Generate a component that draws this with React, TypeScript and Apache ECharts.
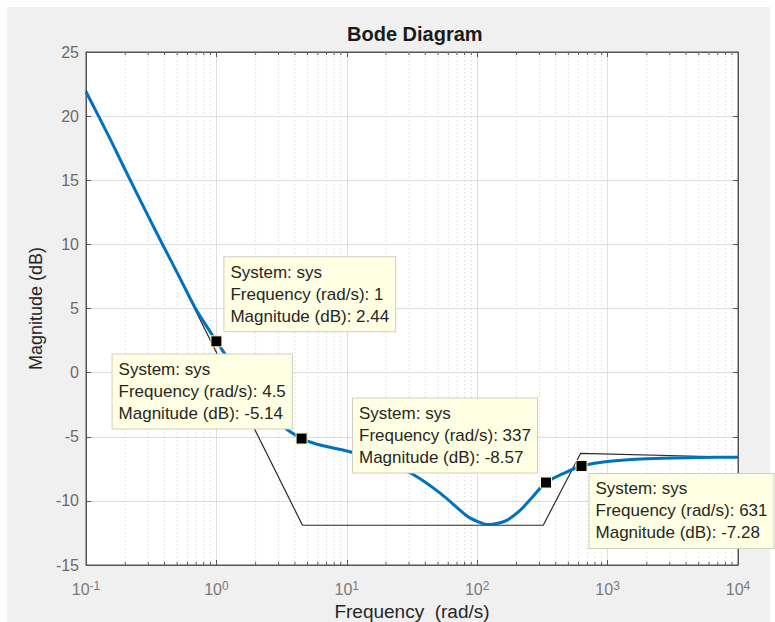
import React, { useEffect, useRef } from "react";
import * as echarts from "echarts";

// ---- Data ----
const curveFreq = [0.1, 0.15, 0.2, 0.3, 0.4, 0.5, 0.7, 0.85, 1, 1.17, 1.5, 2, 2.5, 3, 3.5, 4.5, 6, 9, 15, 22, 33, 52, 84, 100, 120, 150, 170, 210, 255, 337, 450, 631, 1000, 2000, 5000, 10000];
const curveMag = [21.9, 18.4, 15.8, 12.2, 9.7, 7.8, 4.9, 3.55, 2.44, 1.4, -0.3, -2.0, -3.1, -3.9, -4.46, -5.14, -5.6, -6.0, -6.6, -7.2, -8.0, -9.4, -11.2, -11.6, -11.85, -11.7, -11.5, -10.8, -9.9, -8.57, -7.9, -7.28, -6.93, -6.72, -6.62, -6.6];

const asymFreq = [0.1, 4.57, 321, 620, 10000];
const asymMag = [22, -11.9, -11.9, -6.3, -6.6];

const tipFreq = [1, 4.5, 337, 631];
const tipMag = [2.44, -5.14, -8.57, -7.28];
const tipFreqText = ["1", "4.5", "337", "631"];
const tipMagText = ["2.44", "-5.14", "-8.57", "-7.28"];

const decades = [0.1, 1, 10, 100, 1000];
const minorMultipliers = [2, 3, 4, 5, 6, 7, 8, 9];

const yMin = -15;
const yMax = 25;
const yStep = 5;

const title = "Bode Diagram";
const xName = "Frequency  (rad/s)";
const yName = "Magnitude (dB)";

// label box offsets relative to each marker
const tipOffsets: [number, number][] = [
  [14, -78],
  [-183, -78],
  [-187, -78],
  [14, 14],
];

const FONT = "'Liberation Sans', Arial, Helvetica, sans-serif";

export default function App() {
  const ref = useRef<HTMLDivElement>(null);

  useEffect(() => {
    if (!ref.current) return;
    const chart = echarts.init(ref.current, null, { renderer: "svg" });

    const curve = curveFreq.map((f, i) => [f, curveMag[i]]);
    const asym = asymFreq.map((f, i) => [f, asymMag[i]]);
    const minors: number[][] = [];
    decades.forEach((d) => minorMultipliers.forEach((m) => minors.push([d * m, 0])));

    const tips = tipFreq.map((f, i) => ({
      value: [f, tipMag[i]],
      label: {
        show: true,
        position: tipOffsets[i],
        formatter: `System: sys\nFrequency (rad/s): ${tipFreqText[i]}\nMagnitude (dB): ${tipMagText[i]}`,
      },
    }));

    const axisColor = "#555555";

    const option: any = {
      animation: false,
      backgroundColor: "#ffffff",
      textStyle: { fontFamily: FONT },
      title: {
        text: title,
        left: 342,
        top: 19,
        textStyle: { fontSize: 20, fontWeight: "bold", color: "#1a1a1a", fontFamily: FONT },
      },
      graphic: [
        {
          type: "rect",
          z: -100,
          shape: { x: 7, y: 7, width: 763, height: 615 },
          style: { fill: "#f0f0f0" },
          silent: true,
        },
      ],
      grid: {
        left: 86,
        top: 52,
        right: 37,
        bottom: 57,
        containLabel: false,
        outerBoundsMode: "none",
        show: true,
        backgroundColor: "#ffffff",
        borderColor: axisColor,
        borderWidth: 1,
        z: 0,
      },
      xAxis: [
        {
          type: "log",
          logBase: 10,
          min: 0.1,
          max: 10000,
          splitNumber: 5,
          position: "bottom",
          name: xName,
          nameLocation: "middle",
          nameGap: 36,
          nameTextStyle: { fontSize: 19, color: "#262626", fontFamily: FONT, lineHeight: 20 },
          axisLine: { show: true, onZero: false, lineStyle: { color: axisColor } },
          axisTick: { show: true, inside: true, length: 5, lineStyle: { color: axisColor } },
          splitLine: { show: true, lineStyle: { color: "#dedede", width: 1 } },
          axisLabel: {
            margin: 15,
            formatter: (v: number) => `{b|10}{s|${Math.round(Math.log10(v))}}`,
            rich: {
              b: { fontSize: 16, color: "#7a7a7a", fontFamily: FONT, lineHeight: 18 },
              s: { fontSize: 12, color: "#7a7a7a", fontFamily: FONT, verticalAlign: "top", lineHeight: 12 },
            },
          },
        },
        {
          type: "log",
          logBase: 10,
          min: 0.1,
          max: 10000,
          splitNumber: 5,
          position: "top",
          axisLine: { show: true, onZero: false, lineStyle: { color: axisColor } },
          axisTick: { show: true, inside: true, length: 5, lineStyle: { color: axisColor } },
          splitLine: { show: false },
          axisLabel: { show: false },
        },
      ],
      yAxis: [
        {
          type: "value",
          min: yMin,
          max: yMax,
          interval: yStep,
          position: "left",
          name: yName,
          nameLocation: "middle",
          nameGap: 38,
          nameTextStyle: { fontSize: 18, color: "#262626", fontFamily: FONT },
          axisLine: { show: true, onZero: false, lineStyle: { color: axisColor } },
          axisTick: { show: true, inside: true, length: 5, lineStyle: { color: axisColor } },
          splitLine: { show: true, lineStyle: { color: "#dedede", width: 1 } },
          axisLabel: { fontSize: 16, color: "#6a6a6a", margin: 7, fontFamily: FONT },
        },
        {
          type: "value",
          min: yMin,
          max: yMax,
          interval: yStep,
          position: "right",
          axisLine: { show: true, onZero: false, lineStyle: { color: axisColor } },
          axisTick: { show: true, inside: true, length: 5, lineStyle: { color: axisColor } },
          splitLine: { show: false },
          axisLabel: { show: false },
        },
      ],
      series: [
        {
          type: "custom",
          name: "minor",
          xAxisIndex: 0,
          yAxisIndex: 0,
          z: 1,
          silent: true,
          data: minors,
          renderItem: (params: any, api: any) => {
            const x = api.value(0);
            const top = api.coord([x, yMax]);
            const bot = api.coord([x, yMin]);
            return {
              type: "group",
              children: [
                {
                  type: "line",
                  shape: { x1: top[0], y1: top[1], x2: bot[0], y2: bot[1] },
                  style: { stroke: "#dcdcdc", lineWidth: 1, lineDash: [1.5, 2.5] },
                },
                {
                  type: "line",
                  shape: { x1: bot[0], y1: bot[1], x2: bot[0], y2: bot[1] - 3 },
                  style: { stroke: axisColor, lineWidth: 1 },
                },
                {
                  type: "line",
                  shape: { x1: top[0], y1: top[1], x2: top[0], y2: top[1] + 3 },
                  style: { stroke: axisColor, lineWidth: 1 },
                },
              ],
            };
          },
        },
        {
          type: "line",
          name: "asymptote",
          data: asym,
          z: 3,
          showSymbol: false,
          symbol: "none",
          lineStyle: { color: "#2a2a2a", width: 1.2 },
        },
        {
          type: "line",
          name: "sys",
          data: curve,
          z: 4,
          smooth: 0.3,
          showSymbol: false,
          symbol: "none",
          lineStyle: { color: "#0072BD", width: 3 },
        },
        {
          type: "scatter",
          name: "tips",
          data: tips,
          z: 5,
          symbol: "rect",
          symbolSize: 11,
          itemStyle: { color: "#000000", borderColor: "#fffbd0", borderWidth: 1, opacity: 1 },
          label: {
            show: true,
            fontSize: 17,
            lineHeight: 22,
            color: "#262626",
            fontFamily: FONT,
            backgroundColor: "#ffffe3",
            borderColor: "#cfcfc0",
            borderWidth: 1,
            padding: [4, 6, 4, 6],
            align: "left",
            verticalAlign: "top",
          },
        },
      ],
    };

    chart.setOption(option);
    return () => chart.dispose();
  }, []);

  return (
    <div
      ref={ref}
      style={{ position: "fixed", left: 0, top: 0, width: 775, height: 622, background: "#fff" }}
    />
  );
}
